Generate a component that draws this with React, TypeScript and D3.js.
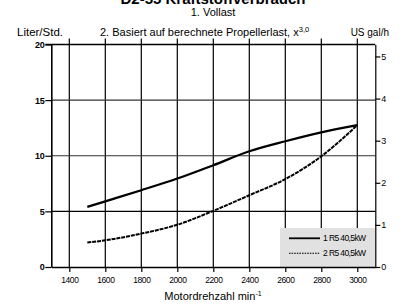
import { useEffect, useRef } from 'react';
import * as d3 from 'd3';

// engine speed (min^-1)
const rpm = [1500, 1600, 1800, 2000, 2200, 2400, 2600, 2800, 3000];
// fuel consumption, litres per hour
const fullLoad = [5.4, 5.9, 6.9, 7.95, 9.15, 10.4, 11.3, 12.1, 12.75];
const propLoad = [2.2, 2.4, 3.0, 3.8, 5.05, 6.45, 7.9, 9.95, 12.75];

const xTicks = [1400, 1600, 1800, 2000, 2200, 2400, 2600, 2800, 3000];
const yTicks = [0, 5, 10, 15, 20];
const galTicks = [0, 1, 2, 3, 4, 5];
const seriesNames = ['1 R5 40,5kW', '2 R5 40,5kW'];

const LITRES_PER_GAL = 3.785;

export default function App() {
  const width = 405;
  const height = 304;
  const left = 51.3;
  const right = 375.3;
  const top = 44.5;
  const bottom = 267;
  const font = '"Liberation Sans", Arial, Helvetica, sans-serif';

  const x = d3.scaleLinear().domain([1300, 3100]).range([left, right]);
  const y = d3.scaleLinear().domain([0, 20]).range([bottom, top]);
  const yGal = d3.scaleLinear().domain([0, 20 / LITRES_PER_GAL]).range([bottom, top]);

  const line = d3.line<number>()
    .x((_, i) => x(rpm[i]))
    .y(d => y(d))
    .curve(d3.curveMonotoneX);

  const gLeft = useRef<SVGGElement>(null);
  const gRight = useRef<SVGGElement>(null);
  const gBottom = useRef<SVGGElement>(null);

  useEffect(() => {
    if (gLeft.current) {
      const g = d3.select(gLeft.current);
      g.call(d3.axisLeft(y).tickValues(yTicks).tickSize(6).tickPadding(1).tickSizeOuter(0));
      g.select('.domain').attr('stroke-width', 1.6);
      g.selectAll('text').attr('font-size', 9).attr('font-family', font).attr('font-weight', 'bold').attr('letter-spacing', -0.4);
      g.selectAll('line').attr('stroke-width', 1.2);
    }
    if (gRight.current) {
      const g = d3.select(gRight.current);
      g.call(d3.axisRight(yGal).tickValues(galTicks).tickSize(5).tickPadding(1).tickSizeOuter(0).tickFormat(d3.format('d')));
      g.select('.domain').attr('stroke-width', 1.2);
      g.selectAll('text').attr('font-size', 9).attr('font-family', font);
      g.selectAll('line').attr('stroke-width', 1.2);
    }
    if (gBottom.current) {
      const g = d3.select(gBottom.current);
      g.call(d3.axisBottom(x).tickValues(xTicks).tickSize(5).tickPadding(5).tickSizeOuter(0).tickFormat(d3.format('d')));
      g.select('.domain').attr('stroke-width', 1.6);
      g.selectAll('text').attr('font-size', 8.5).attr('font-family', font).attr('letter-spacing', -0.4);
      g.selectAll('line').attr('stroke-width', 1.2);
    }
  });

  return (
    <svg width={width} height={height} style={{ position: 'absolute', left: 0, top: 0 }}>
      <rect width={width} height={height} fill="#fff" />
      {/* vertical grid, poking above the frame */}
      {xTicks.map(t => (
        <line key={t} x1={x(t)} x2={x(t)} y1={top - 6} y2={bottom} stroke="#000" strokeWidth={1.2} />
      ))}
      {/* horizontal grid */}
      {yTicks.slice(1, -1).map(t => (
        <line key={t} x1={left} x2={right} y1={y(t)} y2={y(t)} stroke={t === 5 ? '#000' : '#333'} strokeWidth={1.2} />
      ))}
      <line x1={left - 6} x2={right} y1={top} y2={top} stroke="#000" strokeWidth={1.4} />

      {/* legend box sits on the grid */}
      <rect x={280} y={228} width={right - 280} height={bottom - 228} fill="#e1e1e1" />
      <line x1={289} x2={320} y1={238.3} y2={238.3} stroke="#000" strokeWidth={1.8} />
      <line x1={289} x2={320} y1={253.3} y2={253.3} stroke="#000" strokeWidth={1.1} strokeDasharray="1.6,1" />
      <text x={323} y={241.3} fontSize={8.5} fontFamily={font} letterSpacing={-0.6}>{seriesNames[0]}</text>
      <text x={323} y={256.3} fontSize={8.5} fontFamily={font} letterSpacing={-0.6}>{seriesNames[1]}</text>

      <path d={line(fullLoad) ?? ''} fill="none" stroke="#000" strokeWidth={2.2} />
      <path d={line(propLoad) ?? ''} fill="none" stroke="#000" strokeWidth={2} strokeDasharray="4,0.9" />

      <g ref={gLeft} transform={`translate(${left},0)`} />
      <g ref={gRight} transform={`translate(${right},0)`} />
      <g ref={gBottom} transform={`translate(0,${bottom})`} />

      {/* titles */}
      <text x={213} y={4} textAnchor="middle" fontSize={15} fontWeight="bold" fontFamily={font}>D2-55 Kraftstoffverbrauch</text>
      <text x={213} y={16} textAnchor="middle" fontSize={11} fontFamily={font}>1. Vollast</text>
      <text x={17} y={36} fontSize={11.5} fontFamily={font}>Liter/Std.</text>
      <text x={100} y={36} fontSize={11} fontFamily={font}>
        2. Basiert auf berechnete Propellerlast, x<tspan dy={-4} fontSize={7.5}>3,0</tspan>
      </text>
      <text x={389} y={36} textAnchor="end" fontSize={10} fontFamily={font}>US gal/h</text>
      <text x={213} y={300} textAnchor="middle" fontSize={11} fontFamily={font}>
        Motordrehzahl min<tspan dy={-4} fontSize={7}>-1</tspan>
      </text>
    </svg>
  );
}
